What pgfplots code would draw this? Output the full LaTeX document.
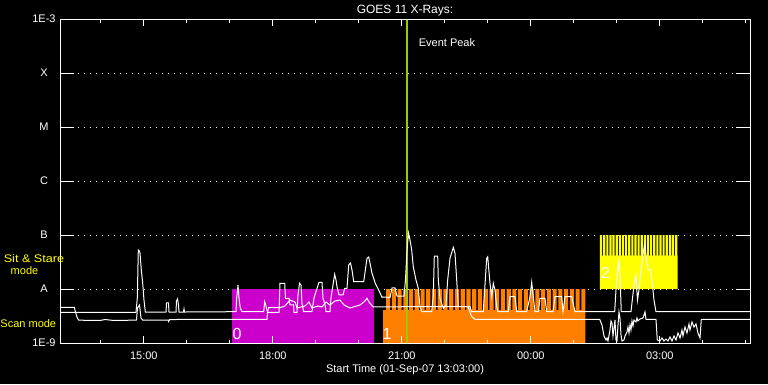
\documentclass[border=0pt]{standalone}
\usepackage{fontspec}
\setmainfont{Liberation Sans}
\usepackage{graphicx}
\usepackage{xcolor}
\usepackage{pgfplots}
\pgfplotsset{compat=1.18}
\definecolor{mag}{RGB}{204,0,204}
\definecolor{orng}{RGB}{255,128,0}
\definecolor{yel}{RGB}{255,255,0}
\definecolor{peakc}{RGB}{153,204,0}
\pgfplotsset{
  gridl/.style={white, line width=1pt, dash pattern=on 1pt off 5pt, forget plot},
  tickl/.style={white, line width=1pt, forget plot},
}
\begin{document}
\begin{tikzpicture}
\fill[black] (0,0) rectangle (768pt,384pt);
\useasboundingbox (0,0) rectangle (768pt,384pt);
\begin{axis}[
  at={(60pt,41pt)}, anchor=south west,
  scale only axis, width=690pt, height=324pt,
  xmin=13.05, xmax=29.097, ymin=-9, ymax=-3,
  axis on top,
  axis line style={white, line width=1pt},
  xtick={15,18,21,24,27},
  xticklabels={15:00,18:00,21:00,00:00,03:00},
  minor xtick={14,16,17,19,20,22,23,25,26,28,29},
  tick align=inside,
  major tick length=7pt, minor tick length=3.5pt,
  xtick style={white, line width=1pt},
  ytick={-9,-8,-7,-6,-5,-4,-3},
  yticklabels={1E-9,A,B,C,M,X,1E-3},
  ytick style={draw=none},
  tick label style={white, font=\fontsize{11}{13}\selectfont},
  xticklabel style={anchor=base, yshift=-16pt},
  yticklabel style={anchor=center, xshift=-16pt},
]
% dotted level lines
\addplot[gridl] coordinates {(13.05,-8) (29.097,-8)};
\addplot[gridl] coordinates {(13.05,-7) (29.097,-7)};
\addplot[gridl] coordinates {(13.05,-6) (29.097,-6)};
\addplot[gridl] coordinates {(13.05,-5) (29.097,-5)};
\addplot[gridl] coordinates {(13.05,-4) (29.097,-4)};
% mode blocks
\addplot[draw=none, fill=mag, forget plot] coordinates {(17.05,-9) (17.05,-8) (20.352,-8) (20.352,-9)};
\addplot[draw=none, fill=orng, const plot, forget plot] coordinates {
(20.562,-9) (20.562,-8.389)
(20.632,-8) (20.727,-8.389) (20.766,-8) (20.861,-8.389) (20.899,-8) (20.994,-8.389)
(21.033,-8) (21.128,-8.389) (21.166,-8) (21.261,-8.389) (21.300,-8) (21.395,-8.389)
(21.434,-8) (21.529,-8.389) (21.567,-8) (21.662,-8.389) (21.701,-8) (21.796,-8.389)
(21.834,-8) (21.929,-8.389) (21.968,-8) (22.063,-8.389) (22.102,-8) (22.197,-8.389)
(22.235,-8) (22.330,-8.389) (22.369,-8) (22.464,-8.389) (22.502,-8) (22.597,-8.389)
(22.636,-8) (22.731,-8.389) (22.770,-8) (22.865,-8.389) (22.903,-8) (22.998,-8.389)
(23.037,-8) (23.132,-8.389) (23.170,-8) (23.265,-8.389) (23.304,-8) (23.399,-8.389)
(23.438,-8) (23.533,-8.389) (23.571,-8) (23.666,-8.389) (23.705,-8) (23.800,-8.389)
(23.838,-8) (23.933,-8.389) (23.972,-8) (24.067,-8.389) (24.106,-8) (24.201,-8.389)
(24.239,-8) (24.334,-8.389) (24.373,-8) (24.468,-8.389) (24.506,-8) (24.601,-8.389)
(24.640,-8) (24.735,-8.389) (24.774,-8) (24.869,-8.389) (24.907,-8) (25.002,-8.389)
(25.041,-8) (25.136,-8.389) (25.174,-8) (25.271,-9)};
\addplot[draw=none, fill=yel, const plot, forget plot] coordinates {
(25.608,-8)
(25.608,-7) (25.658,-7.383) (25.681,-7) (25.731,-7.383) (25.754,-7) (25.804,-7.383)
(25.826,-7) (25.876,-7.383) (25.899,-7) (25.949,-7.383) (25.972,-7) (26.022,-7.383)
(26.045,-7) (26.095,-7.383) (26.118,-7) (26.168,-7.383) (26.190,-7) (26.240,-7.383)
(26.263,-7) (26.313,-7.383) (26.336,-7) (26.386,-7.383) (26.409,-7) (26.459,-7.383)
(26.482,-7) (26.532,-7.383) (26.554,-7) (26.604,-7.383) (26.627,-7) (26.677,-7.383)
(26.700,-7) (26.750,-7.383) (26.773,-7) (26.823,-7.383) (26.846,-7) (26.896,-7.383)
(26.918,-7) (26.968,-7.383) (26.991,-7) (27.041,-7.383) (27.064,-7) (27.114,-7.383)
(27.137,-7) (27.187,-7.383) (27.210,-7) (27.260,-7.383) (27.282,-7) (27.332,-7.383)
(27.355,-7) (27.405,-7.383) (27.415,-8)};
% solid y ticks on both sides
\addplot[tickl] coordinates {(13.05,-8) (13.376,-8)};
\addplot[tickl] coordinates {(13.05,-7) (13.376,-7)};
\addplot[tickl] coordinates {(13.05,-6) (13.376,-6)};
\addplot[tickl] coordinates {(13.05,-5) (13.376,-5)};
\addplot[tickl] coordinates {(13.05,-4) (13.376,-4)};
\addplot[tickl] coordinates {(28.771,-8) (29.097,-8)};
\addplot[tickl] coordinates {(28.771,-7) (29.097,-7)};
\addplot[tickl] coordinates {(28.771,-6) (29.097,-6)};
\addplot[tickl] coordinates {(28.771,-5) (29.097,-5)};
\addplot[tickl] coordinates {(28.771,-4) (29.097,-4)};
% event peak
\addplot[peakc, line width=2pt, forget plot] coordinates {(21.113,-9) (21.113,-3)};
% short channel (log10 flux)
\addplot[white, line width=1pt] coordinates {
(13.050,-8.339) (13.383,-8.339) (13.410,-8.426) (13.445,-8.519) (13.480,-8.574)
(13.700,-8.583) (13.980,-8.583) (14.097,-8.565) (14.300,-8.583) (14.445,-8.583)
(14.829,-8.574) (14.852,-8.352) (14.899,-8.296) (14.934,-8.537) (14.969,-8.574)
(15.562,-8.574) (15.578,-8.602) (15.597,-8.565) (17.864,-8.561) (17.876,-8.431)
(17.903,-8.346) (18.166,-8.346) (18.283,-8.315) (18.399,-8.204) (18.515,-8.241)
(18.562,-8.352) (18.748,-8.315) (18.841,-8.241) (18.910,-8.352) (19.050,-8.315)
(19.143,-8.333) (19.236,-8.241) (19.329,-8.296) (19.445,-8.222) (19.562,-8.204)
(19.655,-8.296) (19.794,-8.352) (19.910,-8.324) (20.027,-8.296) (20.143,-8.222)
(20.190,-8.172) (20.236,-8.241) (20.329,-8.333) (20.492,-8.333) (21.073,-8.328)
(22.538,-8.328) (22.624,-8.513) (22.701,-8.561) (25.601,-8.561)
(25.655,-8.667) (25.701,-8.870) (25.748,-8.944) (25.771,-8.907) (25.794,-8.963)
(25.841,-8.759) (25.864,-8.593) (25.887,-8.630) (25.910,-8.870) (25.934,-8.722)
(25.957,-8.574) (25.980,-8.944) (26.003,-8.963) (26.027,-8.667) (26.050,-8.426)
(26.073,-8.537) (26.097,-8.852) (26.120,-8.963) (26.166,-8.944) (26.190,-8.870)
(26.236,-8.796) (26.259,-8.704) (26.283,-8.815) (26.306,-8.667) (26.329,-8.759)
(26.352,-8.593) (26.376,-8.685) (26.399,-8.574) (26.445,-8.611) (26.469,-8.537)
(26.492,-8.593) (26.538,-8.556) (26.608,-8.537) (26.655,-8.426) (26.678,-8.561)
(26.910,-8.561) (26.941,-8.944) (27.003,-8.963) (27.050,-8.907) (27.097,-8.963)
(27.143,-8.926) (27.190,-8.963) (27.236,-8.889) (27.283,-8.963) (27.329,-8.870)
(27.376,-8.944) (27.422,-8.815) (27.469,-8.907) (27.515,-8.759) (27.538,-8.870)
(27.585,-8.704) (27.631,-8.815) (27.678,-8.648) (27.701,-8.759) (27.748,-8.611)
(27.794,-8.704) (27.841,-8.648) (27.887,-8.815) (27.934,-8.907) (27.964,-8.561)
(29.097,-8.561)};
% long channel (log10 flux)
\addplot[white, line width=1pt] coordinates {
(13.050,-8.431) (14.817,-8.431) (14.848,-8.167) (14.871,-7.278) (14.894,-7.296)
(14.910,-7.333) (14.941,-7.648) (14.973,-7.889) (15.003,-8.204) (15.034,-8.426)
(15.515,-8.426) (15.527,-8.259) (15.573,-8.259) (15.585,-8.426) (15.748,-8.426)
(15.759,-8.222) (15.783,-8.185) (15.806,-8.296) (15.817,-8.426) (15.922,-8.426)
(15.934,-8.370) (15.945,-8.426) (17.143,-8.420) (17.159,-8.167) (17.190,-7.926)
(17.213,-8.167) (17.243,-8.352) (17.283,-8.420) (17.787,-8.420) (17.810,-8.235)
(17.841,-8.315) (17.876,-8.431) (18.143,-8.431) (18.166,-7.894) (18.276,-7.894)
(18.294,-8.172) (18.376,-8.172) (18.399,-8.296) (18.480,-8.296) (18.492,-8.431)
(18.562,-8.431) (18.585,-8.111) (18.620,-7.894) (18.655,-7.926) (18.678,-8.265)
(18.717,-8.420) (18.910,-8.420) (18.957,-8.167) (19.073,-7.876) (19.143,-7.876)
(19.166,-8.167) (19.213,-8.296) (19.236,-8.420) (19.329,-8.420) (19.352,-8.167)
(19.399,-7.926) (19.438,-7.728) (19.469,-7.833) (19.492,-7.957) (19.538,-8.111)
(19.631,-8.111) (19.671,-7.987) (19.724,-7.987) (19.764,-7.556) (19.806,-7.519)
(19.841,-7.648) (19.880,-7.865) (20.113,-7.865) (20.190,-7.431) (20.229,-7.407)
(20.259,-7.519) (20.306,-7.709) (20.383,-7.894) (20.462,-8.019) (20.538,-8.154)
(20.562,-8.148) (20.724,-8.157) (20.771,-7.981) (20.841,-7.981) (20.887,-8.130)
(21.050,-8.130) (21.085,-7.833) (21.120,-7.278) (21.155,-6.963) (21.190,-7.093)
(21.229,-7.278) (21.266,-7.587) (21.329,-7.833) (21.383,-7.987) (21.422,-8.328)
(21.462,-8.420) (21.694,-8.420) (21.731,-8.143) (21.755,-7.389) (21.834,-7.389)
(21.848,-7.833) (21.887,-8.172) (21.964,-8.357) (22.027,-8.296) (22.066,-7.833)
(22.120,-7.431) (22.197,-7.228) (22.236,-7.339) (22.276,-7.833) (22.313,-8.328)
(22.585,-8.328) (22.624,-8.420) (22.894,-8.420) (22.973,-7.431) (22.997,-7.402)
(23.050,-7.894) (23.090,-8.143) (23.127,-7.894) (23.166,-8.019) (23.206,-8.328)
(23.236,-8.420) (23.476,-8.420) (23.515,-8.143) (23.631,-8.143) (23.671,-8.420)
(23.903,-8.420) (23.980,-8.143) (24.020,-7.876) (24.057,-8.143) (24.097,-8.420)
(24.173,-8.420) (24.213,-8.172) (24.329,-8.172) (24.369,-8.420) (24.515,-8.420)
(24.562,-8.143) (24.717,-8.143) (24.748,-8.420) (24.794,-8.143) (24.950,-8.143)
(25.027,-8.420) (25.950,-8.420) (25.980,-8.019) (26.043,-7.450) (26.073,-7.741)
(26.103,-8.420) (26.329,-8.420) (26.399,-7.926) (26.445,-7.741) (26.480,-8.204)
(26.515,-8.019) (26.562,-7.648) (26.648,-7.143) (26.678,-7.370) (26.724,-7.648)
(26.787,-7.648) (26.817,-7.833) (26.864,-8.204) (26.910,-8.420) (29.097,-8.420)};
\node[white, anchor=base, font=\fontsize{11}{13}\selectfont] at (axis cs:22.05,-3.513) {Event Peak};
\node[white, anchor=base, font=\fontsize{16}{16}\selectfont] at (axis cs:17.166,-8.926) {0};
\node[white, anchor=base, font=\fontsize{16}{16}\selectfont] at (axis cs:20.655,-8.926) {1};
\node[white, anchor=base, font=\fontsize{16}{16}\selectfont] at (axis cs:25.736,-7.802) {2};
\end{axis}
\node[white, anchor=base, font=\fontsize{12}{14}\selectfont] at (405pt,370.7pt) {GOES 11 X-Rays:};
\node[white, anchor=base, font=\fontsize{11}{13}\selectfont] at (405pt,12pt) {Start Time (01-Sep-07 13:03:00)};
\node[yel, font=\fontsize{11}{13}\selectfont] at (34pt,125pt) {\scalebox{1.15}[1]{Sit \& Stare}};
\node[yel, font=\fontsize{11}{13}\selectfont] at (24.5pt,113pt) {mode};
\node[yel, font=\fontsize{11}{13}\selectfont] at (28.3pt,60pt) {Scan mode};
\end{tikzpicture}
\end{document}
